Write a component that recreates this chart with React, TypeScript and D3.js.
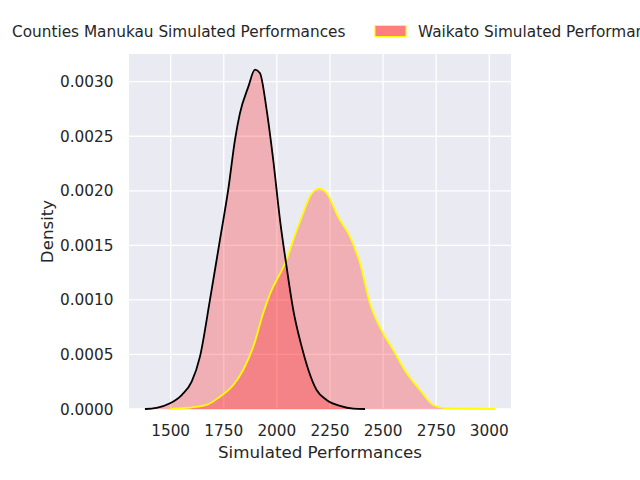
import * as d3 from 'd3';

// Counties Manukau KDE
const manukauX = [1379, 1434, 1497, 1552, 1599, 1638, 1685, 1732, 1771, 1803, 1826, 1865, 1897, 1920, 1952, 1983, 2015, 2046, 2077, 2117, 2148, 2187, 2234, 2297, 2360, 2415];
const manukauY = [0, 0.00001, 0.000052, 0.000128, 0.00025, 0.00048, 0.001, 0.00155, 0.00201, 0.00247, 0.00271, 0.00295, 0.00311, 0.00308, 0.00274, 0.00228, 0.00173, 0.0013, 0.00091, 0.00057, 0.00036, 0.000174, 0.000083, 0.000028, 0.000003, 0];

// Waikato KDE
const waikatoX = [1497, 1575, 1669, 1732, 1795, 1842, 1889, 1936, 1975, 2015, 2046, 2077, 2117, 2156, 2198, 2234, 2289, 2344, 2391, 2438, 2485, 2548, 2611, 2674, 2736, 2799, 2909, 3027];
const waikatoY = [0, 0.00001, 0.000037, 0.000113, 0.00022, 0.00036, 0.00057, 0.00088, 0.00109, 0.00124, 0.00137, 0.00155, 0.00176, 0.00195, 0.00202, 0.00198, 0.00176, 0.00158, 0.00134, 0.00097, 0.00075, 0.00054, 0.00033, 0.000174, 0.000037, 0.000006, 0.000003, 0];

const xTicks = [1500, 1750, 2000, 2250, 2500, 2750, 3000];
const yTicks = [0, 0.0005, 0.001, 0.0015, 0.002, 0.0025, 0.003];

const seriesNames = ['Counties Manukau Simulated Performances', 'Waikato Simulated Performances'];
const lineColors = ['#000000', '#ffff00'];

const FONT = 'DejaVu Sans, sans-serif';
const TEXT = '#262626';

type Pt = { x: number; y: number };

export default function App() {
  const width = 640;
  const height = 480;
  const plot = { left: 129, right: 511, top: 54, bottom: 409 };

  const x = d3.scaleLinear().domain([1304, 3102]).range([plot.left, plot.right]);
  const y = d3.scaleLinear().domain([0, 0.003254]).range([plot.bottom, plot.top]);

  const manukau: Pt[] = manukauX.map((v, i) => ({ x: v, y: manukauY[i] }));
  const waikato: Pt[] = waikatoX.map((v, i) => ({ x: v, y: waikatoY[i] }));

  const line = d3.line<Pt>().x((d) => x(d.x)).y((d) => y(d.y)).curve(d3.curveMonotoneX);
  const area = d3.area<Pt>().x((d) => x(d.x)).y0(y(0)).y1((d) => y(d.y)).curve(d3.curveMonotoneX);

  const series = [manukau, waikato];

  // legend layout (ncol=2, centred above axes, runs off the figure)
  const fs = 15.3;
  const text1X = 12;
  const patchW = 31;
  const patch1X = text1X - 12.5 - patchW;
  const patch2X = 375;
  const text2X = 418;
  const legendY = 31;

  return (
    <div style={{ position: 'fixed', left: 0, top: 0 }}>
      <svg width={width} height={height} style={{ display: 'block', background: '#ffffff' }}>
        <rect x={plot.left} y={plot.top} width={plot.right - plot.left} height={plot.bottom - plot.top} fill="#eaeaf2" />

        {/* grid */}
        {xTicks.map((t) => (
          <line key={`gx${t}`} x1={x(t)} x2={x(t)} y1={plot.top} y2={plot.bottom} stroke="#ffffff" strokeWidth={1.3} />
        ))}
        {yTicks.map((t) => (
          <line key={`gy${t}`} x1={plot.left} x2={plot.right} y1={y(t)} y2={y(t)} stroke="#ffffff" strokeWidth={1.3} />
        ))}

        {/* fills */}
        {series.map((s, i) => (
          <path key={`a${i}`} d={area(s) ?? ''} fill="#ff0000" fillOpacity={0.25} stroke="#ff0000" strokeOpacity={0.12} strokeWidth={1} />
        ))}

        {/* curves: Waikato first so the black one sits on top */}
        <path d={line(waikato) ?? ''} fill="none" stroke={lineColors[1]} strokeWidth={1.8} />
        <path d={line(manukau) ?? ''} fill="none" stroke={lineColors[0]} strokeWidth={1.8} />

        {/* x ticks */}
        {xTicks.map((t) => (
          <text key={`tx${t}`} x={x(t)} y={435.5} textAnchor="middle" fontFamily={FONT} fontSize={fs} fill={TEXT}>
            {t}
          </text>
        ))}
        {/* y ticks */}
        {yTicks.map((t) => (
          <text key={`ty${t}`} x={113.5} y={y(t)} dy="0.36em" textAnchor="end" fontFamily={FONT} fontSize={fs} fill={TEXT}>
            {t.toFixed(4)}
          </text>
        ))}

        <text x={(plot.left + plot.right) / 2} y={458} textAnchor="middle" fontFamily={FONT} fontSize={16.7} fill={TEXT}>
          Simulated Performances
        </text>
        <text transform={`translate(52.5,${(plot.top + plot.bottom) / 2}) rotate(-90)`} textAnchor="middle" fontFamily={FONT} fontSize={16.7} fill={TEXT}>
          Density
        </text>

        {/* legend */}
        <rect x={patch1X} y={25.5} width={patchW} height={11} fill="#ff0000" fillOpacity={0.5} stroke={lineColors[0]} strokeOpacity={0.3} strokeWidth={1} />
        <text x={text1X} y={legendY} dy="0.36em" fontFamily={FONT} fontSize={fs} fill={TEXT}>
          {seriesNames[0]}
        </text>
        <rect x={patch2X} y={25.5} width={patchW} height={11} fill="#ff0000" fillOpacity={0.5} stroke={lineColors[1]} strokeWidth={1} />
        <text x={text2X} y={legendY} dy="0.36em" fontFamily={FONT} fontSize={fs} fill={TEXT}>
          {seriesNames[1]}
        </text>
      </svg>
    </div>
  );
}
